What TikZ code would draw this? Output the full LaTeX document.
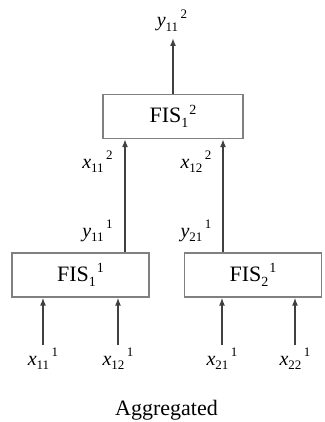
\documentclass[tikz,border=0pt]{standalone}
\usepackage{fontspec}
\setmainfont{Liberation Serif}
\usetikzlibrary{arrows.meta}
\newcommand\vlab[3]{\textit{#1}\raisebox{-4.5pt}{\fontsize{13}{13}\selectfont #2}\hspace{2.5pt}\raisebox{8.5pt}{\fontsize{13}{13}\selectfont #3}}
\newcommand\fislab[2]{FIS\raisebox{-5pt}{\fontsize{14}{14}\selectfont #1}\hspace{1pt}\raisebox{8.5pt}{\fontsize{14}{14}\selectfont #2}}
\begin{document}
\begin{tikzpicture}[x=1pt,y=-1pt,
  fisbox/.style={draw=black!50,line width=1.2pt,minimum height=44pt,inner sep=0pt,font=\fontsize{22}{22}\selectfont},
  lbl/.style={font=\fontsize{20}{20}\selectfont,inner sep=0pt,anchor=base},
  flow/.style={draw=black!75,line width=1.9pt,-{Latex[length=8pt,width=6pt]}}]
\useasboundingbox (0,0) rectangle (324,422);
\node[fisbox,minimum width=140pt] (top) at (173,116.5) {\fislab{1}{2}};
\node[fisbox,minimum width=137pt] (l) at (80.5,275) {\fislab{1}{1}};
\node[fisbox,minimum width=137pt] (r) at (253,275) {\fislab{2}{1}};
\coordinate (out) at (173,38);
\draw[flow] (top.north) -- (out);
\node[lbl] (ylab) at (172,27) {\vlab{y}{11}{2}};
\draw[flow] (l.north -| 125,0) -- (top.south -| 125,0);
\draw[flow] (r.north -| 223,0) -- (top.south -| 223,0);
\node[lbl] (a1) at (97.5,168) {\vlab{x}{11}{2}};
\node[lbl] (a2) at (196,168) {\vlab{x}{12}{2}};
\node[lbl] (b1) at (97.5,237) {\vlab{y}{11}{1}};
\node[lbl] (b2) at (196,237) {\vlab{y}{21}{1}};
\node[lbl] (i1) at (43,365) {\vlab{x}{11}{1}};
\node[lbl] (i2) at (118,365) {\vlab{x}{12}{1}};
\node[lbl] (i3) at (222,365) {\vlab{x}{21}{1}};
\node[lbl] (i4) at (295,365) {\vlab{x}{22}{1}};
\coordinate (c1) at (43,345);
\coordinate (c2) at (118,345);
\coordinate (c3) at (222,345);
\coordinate (c4) at (295,345);
\draw[flow] (c1) -- (c1 |- l.south);
\draw[flow] (c2) -- (c2 |- l.south);
\draw[flow] (c3) -- (c3 |- r.south);
\draw[flow] (c4) -- (c4 |- r.south);
\node[font=\fontsize{22}{22}\selectfont,inner sep=0pt,anchor=base] (cap) at (166.5,415) {Aggregated};
\end{tikzpicture}
\end{document}
